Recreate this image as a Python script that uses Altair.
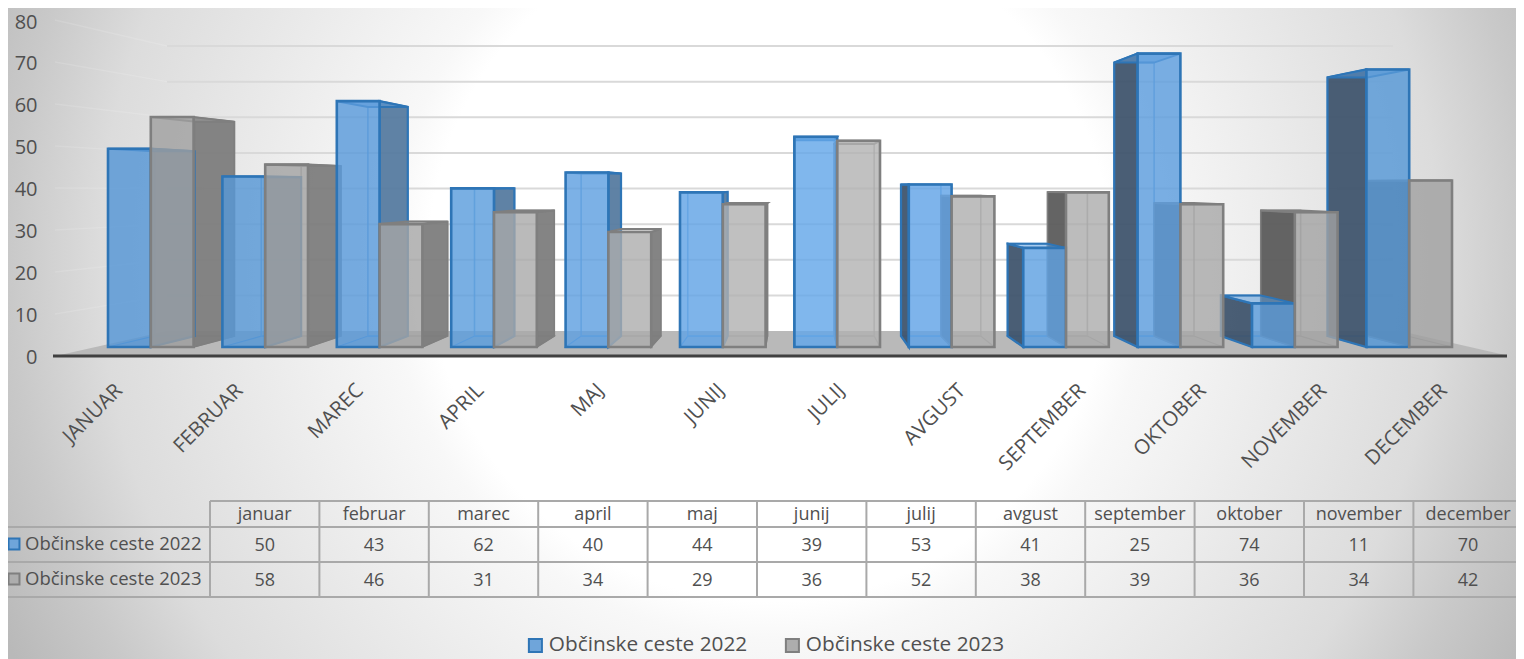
import altair as alt
import pandas as pd

# ---------- data ----------
MONTH_AXIS = ["JANUAR", "FEBRUAR", "MAREC", "APRIL", "MAJ", "JUNIJ", "JULIJ", "AVGUST",
              "SEPTEMBER", "OKTOBER", "NOVEMBER", "DECEMBER"]
MONTH_TABLE = ["januar", "februar", "marec", "april", "maj", "junij", "julij", "avgust",
               "september", "oktober", "november", "december"]
SERIES_A = "Občinske ceste 2022"
SERIES_B = "Občinske ceste 2023"
VALUES_A = [50, 43, 62, 40, 44, 39, 53, 41, 25, 74, 11, 70]
VALUES_B = [58, 46, 31, 34, 29, 36, 52, 38, 39, 36, 34, 42]
Y_TICKS = [0, 10, 20, 30, 40, 50, 60, 70, 80]

# ---------- layout ----------
W, H = 1524, 659
BASE_PY, PX_PER_UNIT = 347.0, 3.965
START_X, STEP_X, BAR_W = 108.0, 114.4, 42.8
VP_X, VP_PY, DEPTH = 794.0, 186.0, 0.068
FONT = "Open Sans"
TEXT = "#505050"


def v_of(py):
    return (BASE_PY - py) / PX_PER_UNIT


VP_V = v_of(VP_PY)
sx = alt.Scale(domain=[0, W], range=[0, W], nice=False, zero=False)
sy = alt.Scale(domain=[v_of(H), v_of(0)], nice=False, zero=False)
X = alt.X("x:Q", scale=sx, axis=None)
Y = alt.Y("y:Q", scale=sy, axis=None)


def back(x, v):
    return x + DEPTH * (VP_X - x), v + DEPTH * (VP_V - v)


def slices(points):
    """Vertical slices of a convex polygon, so it can be drawn as an area."""
    xs = sorted({round(p[0], 3) for p in points})
    n = len(points)
    out = []
    for xv in xs:
        ys = []
        for k in range(n):
            a, b = points[k], points[(k + 1) % n]
            lo, hi = min(a[0], b[0]), max(a[0], b[0])
            if lo - 1e-3 <= xv <= hi + 1e-3:
                if abs(b[0] - a[0]) < 1e-6:
                    ys += [a[1], b[1]]
                else:
                    ys.append(a[1] + (b[1] - a[1]) * (xv - a[0]) / (b[0] - a[0]))
        out.append((xv, min(ys), max(ys)))
    return out


def mix(c0, c1, t):
    return "#%02x%02x%02x" % tuple(round(a + (b - a) * t) for a, b in zip(c0, c1))


fronts, backs = [], []
polys = {"A_side": [], "B_side": [], "A_cap": [], "B_cap": [], "A_floor": [], "B_floor": []}
pid = 0


def add_poly(key, pts, fill):
    global pid
    pid += 1
    for xv, lo, hi in slices(pts):
        polys[key].append({"x": xv, "y": lo, "y2": hi, "poly": pid, "fill": fill})


for s, vals in (("A", VALUES_A), ("B", VALUES_B)):
    for i, v in enumerate(vals):
        x0 = START_X + STEP_X * i + (BAR_W if s == "B" else 0)
        x1 = x0 + BAR_W
        t = max(0.0, 1 - abs((x0 + x1) / 2 - 830) / 620)
        if s == "A":
            fill = mix((86, 150, 213), (100, 167, 233), t)
        else:
            fill = mix((159, 159, 159), (179, 179, 179), t)
        fronts.append({"x": x0, "x2": x1, "y": 0, "y2": v, "fill": fill, "s": s})
        bx0, bv = back(x0, v)
        bx1, bv0 = back(x1, 0)
        backs.append({"x": bx0, "x2": bx1, "y": bv0, "y2": bv, "s": s})
        if x1 < VP_X:
            side = "#557a9f" if s == "A" else "#7c7c7c"
            add_poly(s + "_side", [(x1, 0), (x1, v), (bx1, bv), (bx1, bv0)], side)
        if x0 > VP_X:
            side = "#3f546c" if s == "A" else "#5a5a5a"
            add_poly(s + "_side", [(bx0, bv0), (bx0, bv), (x0, v), (x0, 0)], side)
        add_poly(s + "_cap", [(x0, v), (x1, v), (bx1, bv), (bx0, bv)], fill)
        add_poly(s + "_floor", [(x0, 0), (x1, 0), (bx1, bv0), (bx0, bv0)], fill)

df_front = pd.DataFrame(fronts)
df_back = pd.DataFrame(backs)


def rects(s, **mark):
    d = df_front[df_front.s == s]
    return alt.Chart(d).mark_rect(**mark).encode(
        x=X, x2="x2:Q", y=Y, y2="y2:Q", fill=alt.Fill("fill:N", scale=None))


def back_rects(s, stroke):
    d = df_back[df_back.s == s]
    return alt.Chart(d).mark_rect(fillOpacity=0.0, stroke=stroke, strokeWidth=1.6, strokeOpacity=0.8).encode(
        x=X, x2="x2:Q", y=Y, y2="y2:Q")


def areas(key, stroke, width, opacity, stroke_opacity=1.0):
    d = pd.DataFrame(polys[key])
    return alt.Chart(d).mark_area(stroke=stroke, strokeWidth=width, fillOpacity=opacity,
                                  strokeOpacity=stroke_opacity, orient="vertical", strokeJoin="miter").encode(
        x=X, y=Y, y2="y2:Q", detail="poly:N", fill=alt.Fill("fill:N", scale=None))


# background: a circular gradient, centred on the bars
background = alt.Chart(alt.Data(values=[{"a": 1}])).mark_rect(
    fill={"gradient": "radial", "x1": 0.5, "y1": 0.5, "r1": 0, "x2": 0.5, "y2": 0.5, "r2": 0.56,
          "stops": [{"offset": 0, "color": "#ffffff"}, {"offset": 0.40, "color": "#ffffff"},
                    {"offset": 0.445, "color": "#f8f8f8"}, {"offset": 0.785, "color": "#dcdcdc"},
                    {"offset": 0.89, "color": "#c9c9c9"}, {"offset": 1, "color": "#b9b9b9"}]}
).encode(x=alt.value(8), x2=alt.value(8 + 1524), y=alt.value(260 - 762), y2=alt.value(260 + 762))

# floor and receding gridlines
floor_pts = [(60, v_of(355)), (167, v_of(331)), (1400, v_of(331)), (1505, v_of(355))]
floor = alt.Chart(pd.DataFrame([{"x": a, "y": b, "y2": c} for a, b, c in slices(floor_pts)])).mark_area(
    color="#b9b9b9", orient="vertical").encode(x=X, y=Y, y2="y2:Q")

grid_main, grid_left = [], []
for tick in Y_TICKS[1:]:
    wall = v_of(331 - 3.5625 * tick)
    grid_main += [{"x": 167, "y": wall, "t": tick}, {"x": 1393, "y": wall, "t": tick}]
    grid_left += [{"x": 55, "y": v_of(356 - 4.2 * tick), "t": tick}, {"x": 167, "y": wall, "t": tick}]
grid1 = alt.Chart(pd.DataFrame(grid_main)).mark_line(color="#d9d9d9", strokeWidth=2).encode(x=X, y=Y, detail="t:N")
grid2 = alt.Chart(pd.DataFrame(grid_left)).mark_line(color="#ffffff", strokeOpacity=0.13, strokeWidth=1.5).encode(
    x=X, y=Y, detail="t:N")

baseline = alt.Chart(alt.Data(values=[{"a": 1}])).mark_rule(color="#404040", strokeWidth=3).encode(
    x=alt.value(53), x2=alt.value(1507), y=alt.value(356))

BLUE_LINE, GRAY_LINE = "#2e75b6", "#7f7f7f"

# legend, from a hidden copy of the bars
legend_df = pd.DataFrame({"series": [SERIES_A, SERIES_B], "x": [0, 0], "x2": [1, 1], "y": [0, 0], "y2": [1, 1]})
legend_colors = alt.Scale(domain=[SERIES_A, SERIES_B], range=["#6fa5da", "#adadad"])
legend_strokes = alt.Scale(domain=[SERIES_A, SERIES_B], range=[BLUE_LINE, GRAY_LINE])
legend_def = alt.Legend(orient="none", legendX=525, legendY=635, direction="horizontal", columns=2, title=None,
                        symbolType="square", symbolSize=170, symbolStrokeWidth=2, symbolOpacity=1,
                        labelFont=FONT, labelFontSize=20.8, labelColor=TEXT, labelLimit=300,
                        columnPadding=33, labelOffset=3, padding=0)
legend_layer = alt.Chart(legend_df).mark_rect(opacity=0).encode(
    x=X, x2="x2:Q", y=Y, y2="y2:Q",
    color=alt.Color("series:N", scale=legend_colors, legend=legend_def),
    stroke=alt.Stroke("series:N", scale=legend_strokes, legend=legend_def),
)

# data table
TABLE_X0, TABLE_STEP = 210.0, 109.4
ROWS_PY = [501, 527, 562, 597]
cols = [TABLE_X0 + TABLE_STEP * k for k in range(13)]
vlines = pd.DataFrame([{"x": c} for c in cols])
table_color = "#a9a9a9"
table_v = alt.Chart(vlines).mark_rule(color=table_color, strokeWidth=2).encode(
    x=X, y=alt.value(ROWS_PY[0]), y2=alt.value(ROWS_PY[-1]))
table_h = []
for n, py in enumerate(ROWS_PY):
    table_h.append(alt.Chart(alt.Data(values=[{"a": 1}])).mark_rule(color=table_color, strokeWidth=2).encode(
        x=alt.value(TABLE_X0 if n == 0 else 0), x2=alt.value(W), y=alt.value(py)))


def table_row(texts, py):
    d = pd.DataFrame({"x": [TABLE_X0 + TABLE_STEP * (k + 0.5) for k in range(12)], "t": [str(t) for t in texts]})
    return alt.Chart(d).mark_text(font=FONT, fontSize=18, color=TEXT, align="center", baseline="middle").encode(
        x=X, y=alt.value(py), text="t:N")


rows = [table_row(MONTH_TABLE, 515), table_row(VALUES_A, 546), table_row(VALUES_B, 581)]
row_names = []
for name, py, fc, sc in ((SERIES_A, 544, "#6fa5da", BLUE_LINE), (SERIES_B, 579, "#adadad", GRAY_LINE)):
    row_names.append(alt.Chart(pd.DataFrame({"t": [name]})).mark_text(
        font=FONT, fontSize=18.5, color=TEXT, align="left", baseline="middle").encode(
        x=alt.value(25), y=alt.value(py), text="t:N"))
    row_names.append(alt.Chart(pd.DataFrame({"t": [name]})).mark_point(
        shape="square", size=120, filled=True, fill=fc, stroke=sc, strokeWidth=2, opacity=1).encode(
        x=alt.value(14), y=alt.value(py)))

inner = alt.layer(
    background, grid1, grid2, floor, baseline,
    areas("B_floor", "#8f8f8f", 1.2, 0.15),
    areas("A_floor", "#4f8fcf", 1.2, 0.15),
    back_rects("B", "#9a9a9a"),
    back_rects("A", "#5b9bd5"),
    areas("B_side", GRAY_LINE, 1.5, 0.94),
    areas("A_side", BLUE_LINE, 2.2, 0.94),
    areas("B_cap", GRAY_LINE, 2, 0.45),
    areas("A_cap", BLUE_LINE, 2, 0.55),
    rects("A", fillOpacity=0.82, stroke=BLUE_LINE, strokeWidth=2.6),
    rects("B", fillOpacity=0.80, stroke=GRAY_LINE, strokeWidth=2.6),
    legend_layer,
    table_v, *table_h, *rows, *row_names,
)

# real axes, on scales of their own
Y_AXIS_TOP_V = 357 / ((357 - 22) / 80)
Y_AXIS_BOT_V = (357 - H) / ((357 - 22) / 80)
axis_df = pd.DataFrame({"month": MONTH_AXIS, "v": [0] * 12})
axes = alt.Chart(axis_df).mark_point(opacity=0).encode(
    x=alt.X("month:N", sort=MONTH_AXIS, scale=alt.Scale(range=[58.5, 1503.5], paddingInner=0, paddingOuter=0),
            axis=alt.Axis(orient="bottom", offset=-(H - 372), title=None, domain=False, ticks=False, grid=False,
                          zindex=1, labelAngle=-45, labelAlign="right", labelBaseline="middle", labelFont=FONT,
                          labelFontSize=20.4, labelColor=TEXT, labelPadding=15, labelOverlap=False, labelLimit=300)),
    y=alt.Y("v:Q", scale=alt.Scale(domain=[Y_AXIS_BOT_V, Y_AXIS_TOP_V], nice=False, zero=False),
            axis=alt.Axis(orient="left", offset=-39, values=Y_TICKS, title=None, domain=False, ticks=False,
                          grid=False, zindex=1, labelFont=FONT, labelFontSize=20, labelColor=TEXT, labelPadding=2,
                          labelOverlap=False, labelFlush=False, format="d")),
)

chart = alt.layer(inner, axes).resolve_scale(x="independent", y="independent").properties(
    width=W, height=H,
    padding={"left": -8, "top": -8, "right": -8, "bottom": 0},
    autosize=alt.AutoSizeParams(type="none"),
).configure_view(stroke=None)

chart.save("out.html", embed_options={"renderer": "svg", "actions": False})
